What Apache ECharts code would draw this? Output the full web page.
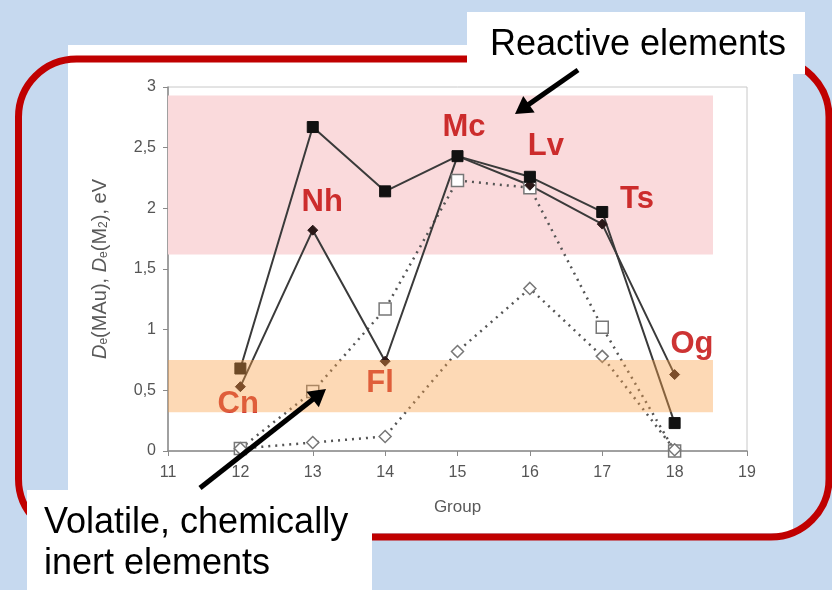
<!DOCTYPE html>
<html>
<head>
<meta charset="utf-8">
<script src="https://cdn.jsdelivr.net/npm/echarts@6/dist/echarts.min.js"></script>
<style>html,body{margin:0;padding:0;background:#c6d9ef;}#chart{width:832px;height:590px;}</style>
</head>
<body>
<div id="chart"></div>
<script>
// ---- data ----
const groups = [12, 13, 14, 15, 16, 17, 18];
const filledSquares = [0.68, 2.67, 2.14, 2.43, 2.26, 1.97, 0.23];
const filledDiamonds = [0.53, 1.82, 0.74, 2.43, 2.19, 1.87, 0.63];
const hollowSquares = [0.02, 0.49, 1.17, 2.23, 2.17, 1.02, 0.00];
const hollowDiamonds = [0.02, 0.07, 0.12, 0.82, 1.34, 0.78, 0.01];
const elementNames = ['Cn', 'Nh', 'Fl', 'Mc', 'Lv', 'Ts', 'Og'];
const elementLabelX = [11.97, 13.13, 13.93, 15.09, 16.22, 17.48, 18.24];
const elementLabelY = [0.38, 2.05, 0.56, 2.67, 2.51, 2.07, 0.88];
const reactiveBand = [11, 18.53, 1.62, 2.93];
const volatileBand = [11, 18.53, 0.32, 0.75];
const yTickLabels = ['0', '0,5', '1', '1,5', '2', '2,5', '3'];
const xTickLabels = ['11', '12', '13', '14', '15', '16', '17', '18', '19'];

const FONT = 'Liberation Sans, Arial, sans-serif';
const chart = echarts.init(document.getElementById('chart'), null, {renderer: 'canvas'});

function arrow(tail, tip, w, headLen, headHalf) {
  const dx = tip[0] - tail[0], dy = tip[1] - tail[1];
  const L = Math.sqrt(dx * dx + dy * dy);
  const ux = dx / L, uy = dy / L;
  const bx = tip[0] - ux * headLen, by = tip[1] - uy * headLen;
  return [
    {type: 'polyline', z: 120, shape: {points: [tail, [bx + ux * 2, by + uy * 2]]}, style: {stroke: '#000', lineWidth: w, fill: null}},
    {type: 'polygon', z: 121, shape: {points: [tip, [bx - uy * headHalf, by + ux * headHalf], [bx + uy * headHalf, by - ux * headHalf]]}, style: {fill: '#000'}}
  ];
}

const lineSeries = (data, symbol, opts) => Object.assign({
  type: 'line',
  data: groups.map((g, i) => [g, data[i]]),
  symbol: symbol,
  z: 3,
  silent: true
}, opts);

const bandSeries = (band, color, z) => ({
  type: 'custom', z: z, silent: true, clip: false,
  data: [band],
  encode: {x: [0, 1], y: [2, 3]},
  renderItem: function (params, api) {
    const p0 = api.coord([api.value(0), api.value(3)]);
    const p1 = api.coord([api.value(1), api.value(2)]);
    return {type: 'rect', shape: {x: p0[0], y: p0[1], width: p1[0] - p0[0], height: p1[1] - p0[1]},
      style: {fill: color}};
  }
});

chart.setOption({
  animation: false,
  grid: {left: 168, right: 85, top: 87, bottom: 139, show: true, borderColor: '#c8c8c8', borderWidth: 1, backgroundColor: 'transparent'},
  xAxis: {
    type: 'value', min: 11, max: 19, interval: 1,
    name: 'Group', nameLocation: 'middle', nameGap: 48,
    nameTextStyle: {color: '#595959', fontSize: 17, fontFamily: FONT},
    axisLine: {show: true, lineStyle: {color: '#8a8a8a', width: 1.5}},
    axisTick: {show: true, length: 5, lineStyle: {color: '#8a8a8a'}},
    axisLabel: {color: '#555', fontSize: 16, fontFamily: FONT, margin: 14,
      formatter: v => xTickLabels[Math.round(v - 11)]},
    splitLine: {show: false}
  },
  yAxis: {
    type: 'value', min: 0, max: 3, interval: 0.5,
    name: '{i|D}{s|e}{n|(MAu), }{i|D}{s|e}{n|(M}{s|2}{n|), eV}',
    nameLocation: 'middle', nameGap: 58,
    nameTextStyle: {color: '#595959', fontSize: 20, fontFamily: FONT,
      rich: {
        i: {fontStyle: 'italic', fontSize: 20, color: '#595959', fontFamily: FONT},
        n: {fontSize: 20, color: '#595959', fontFamily: FONT},
        s: {fontSize: 12, color: '#595959', fontFamily: FONT, verticalAlign: 'bottom', padding: [7, 0, 0, 0]}
      }},
    axisLine: {show: true, lineStyle: {color: '#8a8a8a', width: 1.5}},
    axisTick: {show: true, length: 5, lineStyle: {color: '#8a8a8a'}},
    axisLabel: {color: '#555', fontSize: 16, fontFamily: FONT, margin: 12,
      formatter: v => yTickLabels[Math.round(v * 2)]},
    splitLine: {show: false}
  },
  graphic: {
    elements: [
      {type: 'rect', z: -30, shape: {x: 0, y: 0, width: 832, height: 590}, style: {fill: '#c6d9ef'}},
      {type: 'rect', z: -20, shape: {x: 68, y: 45, width: 725, height: 488}, style: {fill: '#ffffff'}},
      {type: 'rect', z: -10, shape: {x: 18.5, y: 59, width: 810.5, height: 478, r: 58}, style: {fill: null, stroke: '#c00000', lineWidth: 7}},
      {type: 'rect', z: 100, shape: {x: 467, y: 12, width: 338, height: 62}, style: {fill: '#ffffff'}},
      {type: 'text', z: 101, style: {text: 'Reactive elements', x: 638, y: 45, align: 'center', verticalAlign: 'middle', font: '36px ' + FONT, fill: '#000'}},
      {type: 'rect', z: 100, shape: {x: 27, y: 490, width: 345, height: 100}, style: {fill: '#ffffff'}},
      {type: 'text', z: 101, style: {text: 'Volatile, chemically', x: 44, y: 523, align: 'left', verticalAlign: 'middle', font: '36px ' + FONT, fill: '#000'}},
      {type: 'text', z: 101, style: {text: 'inert elements', x: 44, y: 564, align: 'left', verticalAlign: 'middle', font: '36px ' + FONT, fill: '#000'}}
    ].concat(arrow([578, 70], [515, 114], 5, 17, 10)).concat(arrow([200, 488], [326, 389], 5, 17, 10))
  },
  series: [
    bandSeries(reactiveBand, '#fadadc', 1),
    lineSeries(hollowSquares, 'rect', {symbolSize: 12,
      lineStyle: {color: '#555', width: 2.5, type: [2, 5]},
      itemStyle: {color: '#fff', borderColor: '#777', borderWidth: 1.5}}),
    lineSeries(hollowDiamonds, 'diamond', {symbolSize: 12,
      lineStyle: {color: '#555', width: 2.5, type: [2, 5]},
      itemStyle: {color: '#fff', borderColor: '#777', borderWidth: 1.5}}),
    lineSeries(filledDiamonds, 'diamond', {symbolSize: 10,
      lineStyle: {color: '#3a3a3a', width: 2},
      itemStyle: {color: '#2a1818', borderColor: '#2a1818', borderWidth: 1}}),
    lineSeries(filledSquares, 'rect', {symbolSize: 11,
      lineStyle: {color: '#3a3a3a', width: 2},
      itemStyle: {color: '#111', borderColor: '#111', borderWidth: 1}}),
    {
      type: 'scatter', z: 4, silent: true, symbolSize: 1,
      itemStyle: {color: 'transparent'},
      data: elementNames.map((n, i) => ({name: n, value: [elementLabelX[i], elementLabelY[i]]})),
      label: {show: true, position: 'inside', formatter: '{b}', color: '#c00000', fontSize: 31, fontWeight: 'bold', fontFamily: FONT}
    },
    bandSeries(volatileBand, 'rgba(250,160,70,0.4)', 6)
  ]
});
</script>
</body>
</html>
